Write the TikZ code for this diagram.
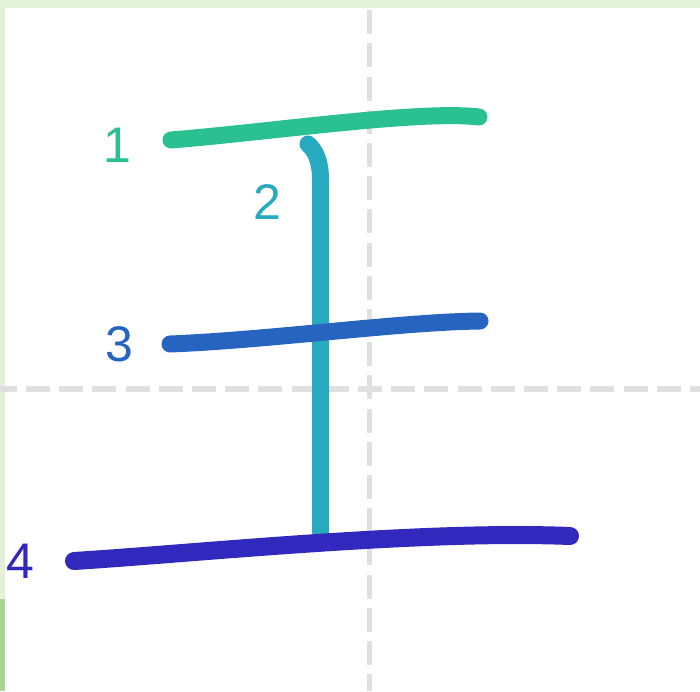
\documentclass[tikz,border=0pt]{standalone}
\usepackage{fontspec}
\setmainfont{Liberation Sans}
\definecolor{sgreen}{RGB}{42,192,143}
\definecolor{steal}{RGB}{39,169,192}
\definecolor{sblue}{RGB}{38,100,192}
\definecolor{sindigo}{RGB}{49,40,190}
\definecolor{gridgray}{RGB}{224,224,224}
\definecolor{bordlight}{RGB}{227,240,218}
\definecolor{borddark}{RGB}{172,212,146}
\begin{document}
\begin{tikzpicture}[x=1pt,y=-1pt,
  stroke/.style={line width=17pt,line cap=round,line join=round},
  gridline/.style={gridgray,line width=5.5pt,dash pattern=on 24pt off 9.2pt},
  num/.style={font=\fontsize{50}{50}\selectfont,inner sep=0pt,anchor=center}]
\useasboundingbox (0,0) rectangle (700,691);
\fill[white] (0,0) rectangle (700,691);
% border
\fill[bordlight] (0,0) rectangle (700,8);
\fill[bordlight] (0,0) rectangle (5,599);
\fill[borddark] (0,599) rectangle (5,691);
% grid
\coordinate (hl) at (-7.2,389);
\coordinate (hr) at (700,389);
\coordinate (vt) at (369.5,10.2);
\coordinate (vb) at (369.5,691);
\draw[gridline] (hl) -- (hr);
\draw[gridline] (vt) -- (vb);
% strokes
\coordinate (s1a) at (171,140);
\coordinate (s1b) at (479,117);
\draw[stroke,sgreen] (s1a) .. controls (270,132) and (420,110) .. (s1b);
\coordinate (s2a) at (308,144);
\coordinate (s2m) at (320.5,180);
\coordinate (s2b) at (320.5,532);
\draw[stroke,steal] (s2a) .. controls (316,151) and (320.5,162) .. (s2m) -- (s2b);
\coordinate (s3a) at (170,344);
\coordinate (s3b) at (480,321);
\draw[stroke,sblue] (s3a) .. controls (270,340) and (400,322) .. (s3b);
\coordinate (s4a) at (74,561);
\coordinate (s4b) at (570,536);
\draw[stroke,sindigo,line width=18pt] (s4a) .. controls (200,553) and (420,530) .. (s4b);
% labels
\node[num,text=sgreen] (n1) at (117,145) {1};
\node[num,text=steal] (n2) at (267,202) {2};
\node[num,text=sblue] (n3) at (119,344) {3};
\node[num,text=sindigo] (n4) at (20,561) {4};
\end{tikzpicture}
\end{document}
